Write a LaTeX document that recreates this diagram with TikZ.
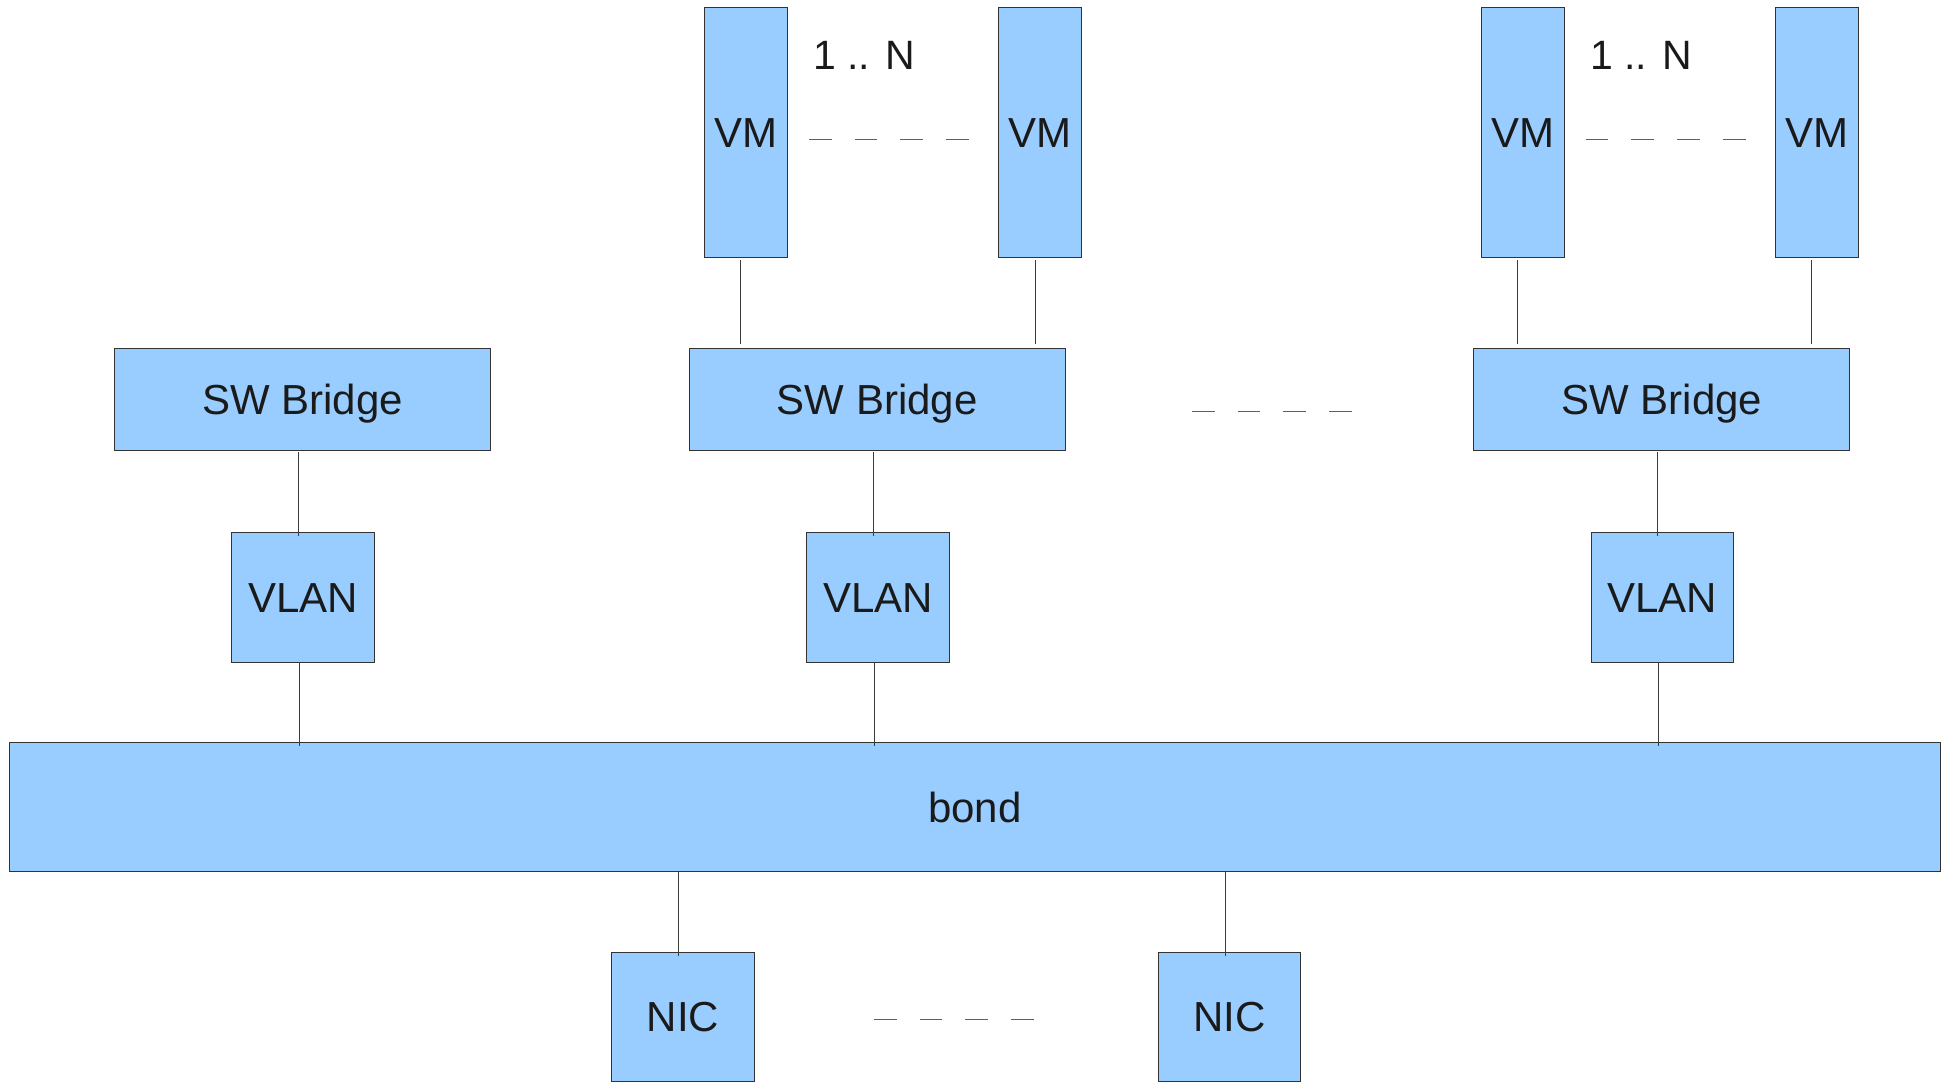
\documentclass[tikz,border=0pt]{standalone}
\usepackage{fontspec}
\setmainfont{Liberation Sans}
\usetikzlibrary{calc}
\definecolor{boxfill}{HTML}{99CCFF}
\definecolor{boxline}{HTML}{333333}
\definecolor{txt}{HTML}{1A1A1A}
\definecolor{connline}{HTML}{3C3C3C}
\definecolor{dashline}{HTML}{606060}
\tikzset{
  blk/.style={draw=boxline, line width=1pt, fill=boxfill, inner sep=0pt, outer sep=0pt,
    text=txt, font=\fontsize{42}{50}\selectfont, text height=30.1pt, text depth=0pt, anchor=center},
  vmbox/.style={blk, minimum width=83pt, minimum height=250pt},
  brbox/.style={blk, minimum width=376pt, minimum height=102pt},
  sqbox/.style={blk, minimum width=142.6pt, minimum height=129.3pt},
  conn/.style={draw=connline, line width=1pt},
  dots/.style={draw=dashline, line width=1pt, dash pattern=on 22.7pt off 23pt},
  lbl/.style={text=txt, font=\fontsize{41}{49}\selectfont, inner sep=0pt, text height=29.4pt, text depth=0pt}
}
\begin{document}
\begin{tikzpicture}[x=1pt,y=-1pt]
\useasboundingbox (0,0) rectangle (1950,1082);
% VMs
\node[vmbox] (vm1) at (745.8,132) {VM};
\node[vmbox] (vm2) at (1040,132) {VM};
\node[vmbox] (vm3) at (1522.7,132) {VM};
\node[vmbox] (vm4) at (1816.8,132) {VM};
\node[lbl] (n1) at (864,55) {1 .. N};
\node[lbl] (n2) at (1641,55) {1 .. N};
% bridges
\node[brbox] (br1) at (302.7,399.3) {SW Bridge};
\node[brbox] (br2) at (877.3,399.3) {SW Bridge};
\node[brbox] (br3) at (1661.8,399.3) {SW Bridge};
% VLANs
\node[sqbox] (vl1) at (303,597.6) {VLAN};
\node[sqbox] (vl2) at (878,597.6) {VLAN};
\node[sqbox] (vl3) at (1662.3,597.6) {VLAN};
% bond
\node[blk, minimum width=1930.5pt, minimum height=129pt] (bond) at (974.75,807.2) {bond};
% NICs
\node[sqbox] (nic1) at (683,1016.7) {NIC};
\node[sqbox] (nic2) at (1229.3,1016.7) {NIC};
% dashed ellipses
\coordinate (d1a) at (809,139);  \coordinate (d1b) at (970,139);
\coordinate (d2a) at (1585.7,139); \coordinate (d2b) at (1747,139);
\coordinate (d3a) at (1192,411.7); \coordinate (d3b) at (1354,411.7);
\coordinate (d4a) at (874,1019.7); \coordinate (d4b) at (1036,1019.7);
\draw[dots] (d1a) -- (d1b);
\draw[dots] (d2a) -- (d2b);
\draw[dots] (d3a) -- (d3b);
\draw[dots] (d4a) -- (d4b);
% VM to bridge
\draw[conn] ($(vm1.south)+(-5,3)$) -- ($(vm1.south |- br2.north)+(-5,-4)$);
\draw[conn] ($(vm2.south)+(-5,3)$) -- ($(vm2.south |- br2.north)+(-5,-4)$);
\draw[conn] ($(vm3.south)+(-5,3)$) -- ($(vm3.south |- br3.north)+(-5,-4)$);
\draw[conn] ($(vm4.south)+(-5,3)$) -- ($(vm4.south |- br3.north)+(-5,-4)$);
% bridge to VLAN
\draw[conn] ($(br1.south)+(-4,1.5)$) -- ($(br1.south |- vl1.north)+(-4,3.5)$);
\draw[conn] ($(br2.south)+(-4,1.5)$) -- ($(br2.south |- vl2.north)+(-4,3.5)$);
\draw[conn] ($(br3.south)+(-4,1.5)$) -- ($(br3.south |- vl3.north)+(-4,3.5)$);
% VLAN to bond
\draw[conn] ($(vl1.south)+(-4,0)$) -- ($(vl1.south |- bond.north)+(-4,3.5)$);
\draw[conn] ($(vl2.south)+(-4,0)$) -- ($(vl2.south |- bond.north)+(-4,3.5)$);
\draw[conn] ($(vl3.south)+(-4,0)$) -- ($(vl3.south |- bond.north)+(-4,3.5)$);
% bond to NIC
\draw[conn] ($(nic1.north |- bond.south)+(-4.4,0)$) -- ($(nic1.north)+(-4.4,3.5)$);
\draw[conn] ($(nic2.north |- bond.south)+(-4,0)$) -- ($(nic2.north)+(-4,3.5)$);
\end{tikzpicture}
\end{document}
